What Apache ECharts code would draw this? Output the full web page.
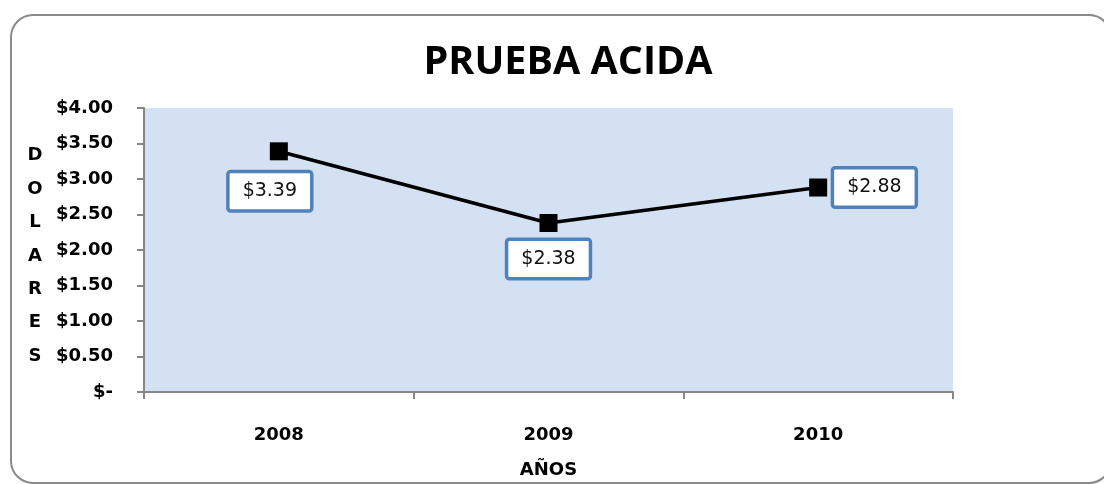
<!DOCTYPE html>
<html>
<head>
<meta charset="utf-8">
<script src="https://cdn.jsdelivr.net/npm/echarts@6/dist/echarts.min.js"></script>
<style>html,body{margin:0;padding:0;background:#fff}#c{width:1104px;height:484px}</style>
</head>
<body>
<div id="c"></div>
<script>
const titleText = 'PRUEBA ACIDA';
const categories = ['2008', '2009', '2010'];
const values = [3.39, 2.38, 2.88];
const yTickLabels = ['$-', '$0.50', '$1.00', '$1.50', '$2.00', '$2.50', '$3.00', '$3.50', '$4.00'];
const yAxisTitle = 'DOLARES';
const xAxisTitle = 'AÑOS';

const labelSpecs = [
  { position: 'bottom', distance: 13, offset: [-9, 0] },
  { position: 'bottom', distance: 9, offset: [0, 0] },
  { position: 'right', distance: 7, offset: [0, 0] }
];

const chart = echarts.init(document.getElementById('c'), null, { renderer: 'canvas' });
const axisFont = { fontFamily: 'DejaVu Sans', fontWeight: 'bold', fontSize: 18, color: '#000' };

chart.setOption({
  animation: false,
  backgroundColor: '#fff',
  title: {
    text: titleText,
    left: 563, top: 38, textAlign: 'center',
    textStyle: { fontFamily: 'Open Sans', fontWeight: 'bold', fontSize: 39.5, color: '#000' }
  },
  graphic: [{
    type: 'rect', z: -1,
    shape: { x: 11, y: 15, width: 1100, height: 468, r: 22 },
    style: { fill: 'none', stroke: '#8a8a8a', lineWidth: 2 }
  }],
  grid: { left: 144, right: 151, top: 108, bottom: 88, show: true, backgroundColor: '#D3E1F2', borderWidth: 0 },
  xAxis: {
    type: 'category', data: categories, boundaryGap: true,
    axisLine: { lineStyle: { color: '#868686', width: 2 } },
    axisTick: { show: true, length: 7, lineStyle: { color: '#868686', width: 2 } },
    axisLabel: Object.assign({ margin: 34 }, axisFont),
    name: xAxisTitle, nameLocation: 'middle', nameGap: 69,
    nameTextStyle: axisFont
  },
  yAxis: {
    type: 'value', min: 0, max: 4, interval: 0.5,
    axisLine: { show: true, lineStyle: { color: '#868686', width: 2 } },
    axisTick: { show: true, length: 7, lineStyle: { color: '#868686', width: 2 } },
    splitLine: { show: false },
    axisLabel: Object.assign({ margin: 31, formatter: v => yTickLabels[Math.round(v / 0.5)] }, axisFont),
    name: '{s|}\n' + yAxisTitle.split('').join('\n'), nameLocation: 'middle', nameRotate: 0, nameGap: 109,
    nameTextStyle: Object.assign({
      align: 'center', verticalAlign: 'middle', lineHeight: 33.4,
      rich: { s: { lineHeight: 12, fontSize: 2 } }
    }, axisFont)
  },
  series: [{
    type: 'line',
    data: values.map((v, i) => ({
      value: v,
      label: {
        show: true,
        position: labelSpecs[i].position,
        distance: labelSpecs[i].distance,
        offset: labelSpecs[i].offset
      }
    })),
    symbol: 'rect', symbolSize: 18,
    itemStyle: { color: '#000' },
    lineStyle: { color: '#000', width: 3.5 },
    label: {
      show: true,
      formatter: p => '$' + p.value.toFixed(2),
      fontFamily: 'DejaVu Sans', fontSize: 19, color: '#111', lineHeight: 20,
      backgroundColor: '#fff', borderColor: '#4F81BD', borderWidth: 3.5, borderRadius: 1,
      padding: [8, 13]
    }
  }]
});
</script>
</body>
</html>
